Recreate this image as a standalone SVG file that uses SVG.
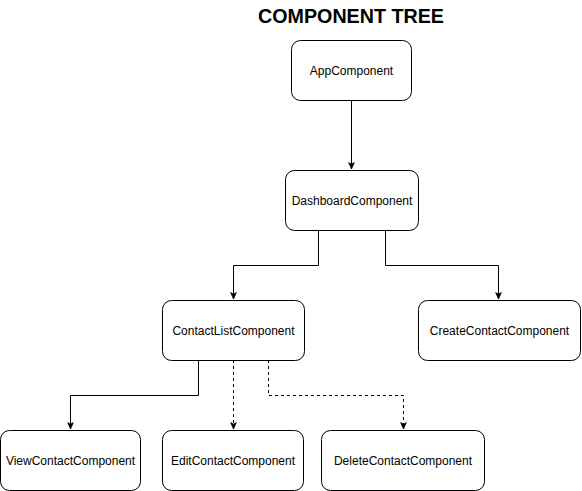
<svg xmlns="http://www.w3.org/2000/svg" width="582" height="491" viewBox="0 0 582 491">
<style>
.n rect{fill:#fff;stroke:#000;stroke-width:1}
.n text{font-family:"Liberation Sans",Arial,sans-serif;font-size:12px;fill:#000;text-anchor:middle;dominant-baseline:central}
.e path{fill:none;stroke:#000;stroke-width:1}
.e .d{stroke-dasharray:3 3}
.title{font-family:"Liberation Sans",Arial,sans-serif;font-size:19.7px;font-weight:bold;fill:#000;text-anchor:middle}
</style>
<defs>
<marker id="a" viewBox="0 0 10 10" refX="9" refY="5" markerWidth="8" markerHeight="8" markerUnits="userSpaceOnUse" orient="auto">
<path d="M1,1.5 L9,5 L1,8.5 L3,5 Z" fill="#000" stroke="#000" stroke-width="1"/>
</marker>
</defs>
<rect width="582" height="491" fill="#fff"/>
<text class="title" x="351" y="23">COMPONENT TREE</text>
<g class="e">
<path d="M351.5,100 V169" marker-end="url(#a)"/>
<path d="M318.5,230 V265.5 H233.5 V299" marker-end="url(#a)"/>
<path d="M385.5,230 V265.5 H498.5 V299" marker-end="url(#a)"/>
<path d="M198.5,360 V395.5 H70.5 V429" marker-end="url(#a)"/>
<path class="d" d="M233.5,360 V429" marker-end="url(#a)"/>
<path class="d" d="M268.5,360 V395.5 H403.5 V429" marker-end="url(#a)"/>
</g>
<g id="app" class="n"><rect x="291.5" y="40.5" width="120" height="60" rx="9"/><text x="351.5" y="70.5">AppComponent</text></g>
<g id="dashboard" class="n"><rect x="285.5" y="170.5" width="133" height="60" rx="9"/><text x="352" y="200.5">DashboardComponent</text></g>
<g id="contactlist" class="n"><rect x="162.5" y="300.5" width="142" height="60" rx="9"/><text x="233.5" y="330.5">ContactListComponent</text></g>
<g id="create" class="n"><rect x="418.5" y="300.5" width="162" height="60" rx="9"/><text x="499.5" y="330.5">CreateContactComponent</text></g>
<g id="view" class="n"><rect x="0.5" y="430.5" width="140" height="60" rx="9"/><text x="70.5" y="460.5">ViewContactComponent</text></g>
<g id="edit" class="n"><rect x="162.5" y="430.5" width="141" height="60" rx="9"/><text x="233" y="460.5">EditContactComponent</text></g>
<g id="delete" class="n"><rect x="321.5" y="430.5" width="163" height="60" rx="9"/><text x="403" y="460.5">DeleteContactComponent</text></g>
</svg>
